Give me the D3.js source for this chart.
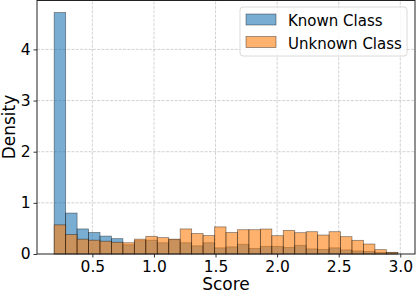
<!DOCTYPE html>
<html>
<head>
<meta charset="utf-8">
<script src="https://cdn.jsdelivr.net/npm/d3@7"></script>
<style>
  html, body { margin: 0; padding: 0; background: #fff; }
  svg { display: block; font-family: "DejaVu Sans", sans-serif; }
</style>
</head>
<body>
<svg id="chart" width="416" height="293"></svg>
<script>
// histogram range shared by both series (30 bins)
const binStart = 0.19;
const binEnd = 2.98;

// density per bin
const knownDensity = [
    4.72, 0.80, 0.49, 0.42, 0.35, 0.30, 0.18, 0.26, 0.27, 0.22,
    0.28, 0.22, 0.16, 0.22, 0.12, 0.14, 0.19, 0.11, 0.15, 0.15,
    0.13, 0.17, 0.10, 0.09, 0.12, 0.08, 0.06, 0.05, 0.03, 0.025
];
const unknownDensity = [
    0.57, 0.38, 0.29, 0.27, 0.25, 0.23, 0.22, 0.29, 0.345, 0.32,
    0.29, 0.49, 0.40, 0.36, 0.53, 0.42, 0.475, 0.475, 0.488, 0.358,
    0.462, 0.417, 0.436, 0.371, 0.436, 0.339, 0.267, 0.195, 0.085, 0.033
];

const seriesNames = ['Known Class', 'Unknown Class'];
const seriesColors = ['#1f77b4', '#ff7f0e'];
const xTicks = [0.5, 1.0, 1.5, 2.0, 2.5, 3.0];
const yTicks = [0, 1, 2, 3, 4];

const W = 416, H = 293;
const margin = { left: 37, right: 1, top: 0.5, bottom: 39 };

const svg = d3.select('#chart');

const nBins = knownDensity.length;
const binW = (binEnd - binStart) / nBins;
const pad = 0.05 * (binEnd - binStart);
const yMax = 1.05 * d3.max(knownDensity.concat(unknownDensity));

const x = d3.scaleLinear()
    .domain([binStart - pad, binEnd + pad])
    .range([margin.left, W - margin.right]);
const y = d3.scaleLinear()
    .domain([0, yMax])
    .range([H - margin.bottom, margin.top]);

// ---- grid (behind bars) ----
const grid = svg.append('g').attr('class', 'grid');
grid.selectAll('line.gx')
    .data(xTicks)
    .join('line')
    .attr('x1', d => x(d)).attr('x2', d => x(d))
    .attr('y1', y(0)).attr('y2', y(yMax));
grid.selectAll('line.gy')
    .data(yTicks.filter(d => d > 0))
    .join('line')
    .attr('x1', x.range()[0]).attr('x2', x.range()[1])
    .attr('y1', d => y(d)).attr('y2', d => y(d));
grid.selectAll('line')
    .attr('stroke', '#b0b0b0')
    .attr('stroke-opacity', 0.7)
    .attr('stroke-width', 0.8)
    .attr('stroke-dasharray', '3,1.3');

// ---- bars ----
[knownDensity, unknownDensity].forEach((vals, si) => {
    svg.append('g')
        .selectAll('rect')
        .data(vals)
        .join('rect')
        .attr('x', (d, i) => x(binStart + i * binW))
        .attr('width', (d, i) => x(binStart + (i + 1) * binW) - x(binStart + i * binW))
        .attr('y', d => y(d))
        .attr('height', d => y(0) - y(d))
        .attr('fill', seriesColors[si])
        .attr('fill-opacity', 0.6)
        .attr('stroke', 'rgba(0,0,0,0.45)')
        .attr('stroke-width', 0.8);
});

// ---- axes ----
const xAxis = svg.append('g')
    .attr('transform', `translate(0,${y(0)})`)
    .call(d3.axisBottom(x).tickValues(xTicks).tickFormat(d3.format('.1f'))
        .tickSize(3.5).tickPadding(3));
const yAxis = svg.append('g')
    .attr('transform', `translate(${x.range()[0]},0)`)
    .call(d3.axisLeft(y).tickValues(yTicks).tickFormat(d3.format('d'))
        .tickSize(3.5).tickPadding(3));
[xAxis, yAxis].forEach(ax => {
    ax.select('.domain').remove();
    ax.selectAll('text')
        .attr('font-family', '"DejaVu Sans", sans-serif')
        .attr('font-size', 15.5)
        .attr('fill', '#000');
    ax.selectAll('line').attr('stroke', '#000').attr('stroke-width', 0.8);
});

// frame
svg.append('rect')
    .attr('x', x.range()[0]).attr('y', y(yMax))
    .attr('width', x.range()[1] - x.range()[0])
    .attr('height', y(0) - y(yMax))
    .attr('fill', 'none')
    .attr('stroke', '#222')
    .attr('stroke-width', 1);

// axis labels
svg.append('text')
    .attr('x', (x.range()[0] + x.range()[1]) / 2)
    .attr('y', 290)
    .attr('text-anchor', 'middle')
    .attr('font-size', 17)
    .text('Score');
svg.append('text')
    .attr('transform', 'translate(15,127) rotate(-90)')
    .attr('text-anchor', 'middle')
    .attr('font-size', 17)
    .text('Density');

// ---- legend ----
const legend = svg.append('g').attr('transform', 'translate(240,7)');
legend.append('rect')
    .attr('width', 167).attr('height', 49)
    .attr('rx', 3)
    .attr('fill', '#fff').attr('fill-opacity', 0.8)
    .attr('stroke', '#d0d0d0').attr('stroke-width', 0.8);
const items = legend.selectAll('g.item')
    .data(seriesNames)
    .join('g')
    .attr('transform', (d, i) => `translate(6,${7 + i * 22.5})`);
items.append('rect')
    .attr('width', 30).attr('height', 11)
    .attr('fill', (d, i) => seriesColors[i])
    .attr('fill-opacity', 0.6)
    .attr('stroke', 'rgba(0,0,0,0.45)')
    .attr('stroke-width', 0.8);
items.append('text')
    .attr('x', 42).attr('y', 12)
    .attr('font-size', 15)
    .text(d => d);
</script>
</body>
</html>
